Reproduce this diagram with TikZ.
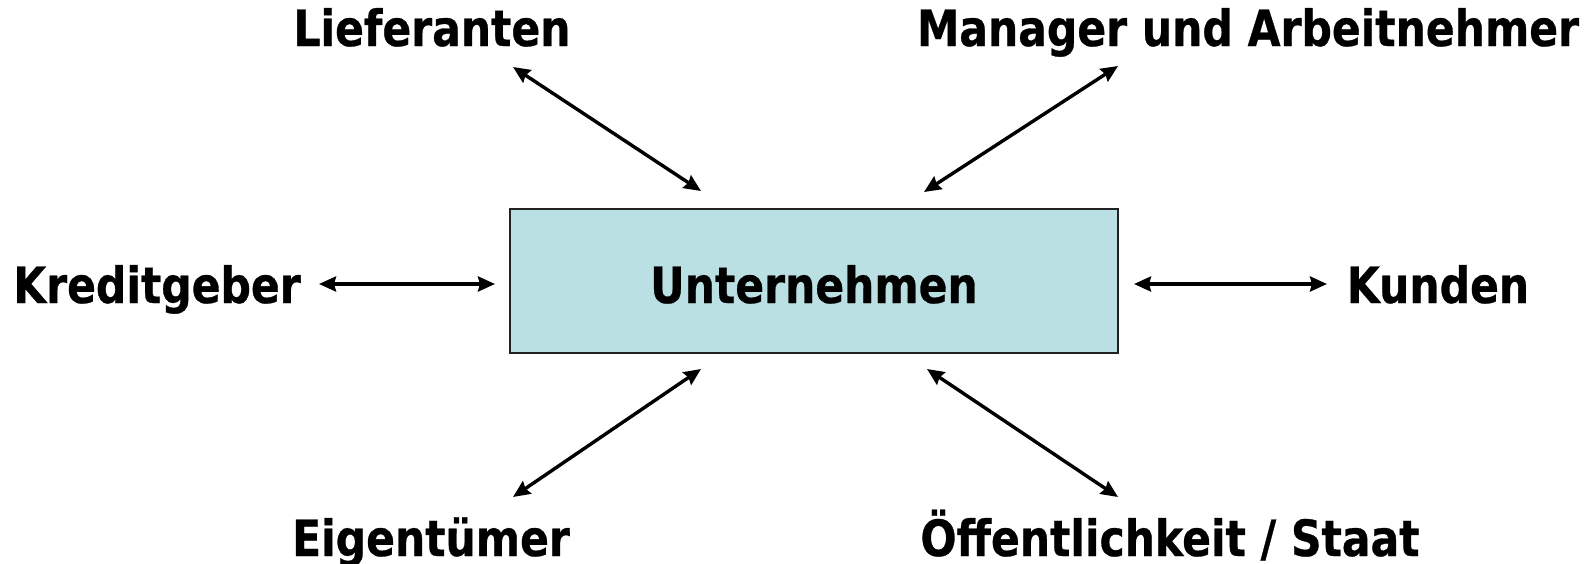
\documentclass[tikz,border=0pt]{standalone}
\usepackage{fontspec}
\setmainfont{DejaVu Sans}[FakeStretch=0.85,FakeBold=0.6]
\usetikzlibrary{arrows.meta}
\definecolor{boxfill}{HTML}{BBE0E3}
\definecolor{boxline}{HTML}{222222}
\tikzset{
  lbl/.style={anchor=base, inner sep=0pt, font=\fontsize{50}{60}\selectfont\bfseries},
  link/.style={line width=3.4pt, {Stealth[length=17pt,width=15pt,inset=2pt]}-{Stealth[length=17pt,width=15pt,inset=2pt]}},
  mainbox/.style={draw=boxline, line width=1.8pt, fill=boxfill, minimum width=608pt, minimum height=144pt, inner sep=0pt}
}
\begin{document}
\begin{tikzpicture}[x=1pt,y=-1pt]
\useasboundingbox (0,0) rectangle (1587,563);
\node[mainbox] (box) at (814,281) {};
\node[lbl] (unt) at (814,303) {Unternehmen};
\node[lbl] (lief) at (432,46) {Lieferanten};
\node[lbl] (man) at (1248,46) {Manager und Arbeitnehmer};
\node[lbl] (kred) at (157,303) {Kreditgeber};
\node[lbl] (kund) at (1438,303) {Kunden};
\node[lbl] (eig) at (431,556) {Eigentümer};
\node[lbl] (oef) at (1170,556) {Öffentlichkeit / Staat};
\coordinate (l1) at (513,67);  \coordinate (l2) at (701,191);
\coordinate (m1) at (1118,66); \coordinate (m2) at (924,192);
\coordinate (k1) at (319,284); \coordinate (k2) at (495,284);
\coordinate (u1) at (1134,284); \coordinate (u2) at (1327,284);
\coordinate (e1) at (701,369); \coordinate (e2) at (513,497);
\coordinate (o1) at (927,369); \coordinate (o2) at (1118,497);
\draw[link] (l1) -- (l2);
\draw[link] (m1) -- (m2);
\draw[link] (k1) -- (k2);
\draw[link] (u1) -- (u2);
\draw[link] (e1) -- (e2);
\draw[link] (o1) -- (o2);
\end{tikzpicture}
\end{document}
